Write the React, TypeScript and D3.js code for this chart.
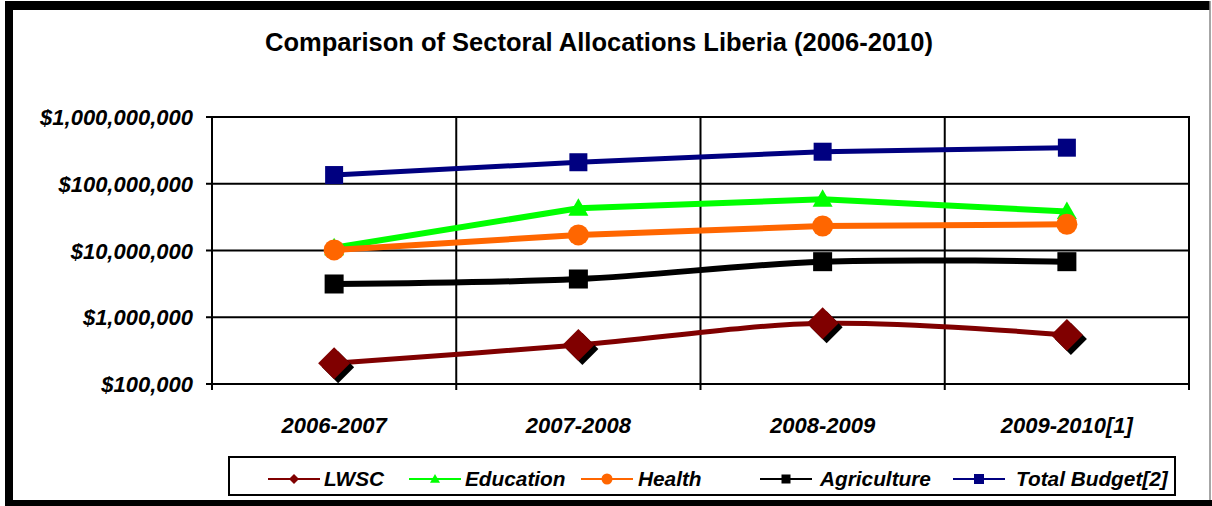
import React, { useEffect, useRef } from 'react';
import * as d3 from 'd3';

// categories and values (log scale)
const years = ['2006-2007', '2007-2008', '2008-2009', '2009-2010[1]'];
const lwsc = [204000, 384000, 810000, 542000];
const education = [11000000, 43000000, 58500000, 38500000];
const health = [10200000, 17100000, 23300000, 24700000];
const agriculture = [3150000, 3740000, 6800000, 6800000];
const totalBudget = [135000000, 210000000, 302000000, 347000000];
const yTicks = [100000, 1000000, 10000000, 100000000, 1000000000];

const seriesNames = ['LWSC', 'Education', 'Health', 'Agriculture', 'Total Budget[2]'];
const seriesColors = ['#800000', '#00FF00', '#FF6600', '#000000', '#000080'];
const seriesMarkers = ['diamond', 'triangle', 'circle', 'square', 'square'];
const seriesSmooth = [true, false, false, true, false];

const W = 1212;
const H = 506;

const App: React.FC = () => {
  const svgRef = useRef<SVGSVGElement>(null);

  useEffect(() => {
    if (!svgRef.current) return;
    const svg = d3.select(svgRef.current);
    svg.selectAll('*').remove();

    const font = 'Arial, "Liberation Sans", sans-serif';
    const left = 212, right = 1189, top = 117, bottom = 384;

    // outer frame
    svg.append('rect').attr('x', 0).attr('y', 0).attr('width', W).attr('height', H).attr('fill', '#fff');
    svg.append('rect').attr('x', 5).attr('y', 1).attr('width', 1205).attr('height', 9).attr('fill', '#000');
    svg.append('rect').attr('x', 5).attr('y', 1).attr('width', 8).attr('height', 505).attr('fill', '#000');
    svg.append('rect').attr('x', 5).attr('y', 500).attr('width', 1207).attr('height', 6).attr('fill', '#000');
    svg.append('line').attr('x1', 1210).attr('x2', 1210).attr('y1', 1).attr('y2', 500)
      .attr('stroke', '#888').attr('stroke-width', 1.5);

    // title
    svg.append('text')
      .attr('x', 599).attr('y', 51)
      .attr('text-anchor', 'middle')
      .attr('font-family', font).attr('font-weight', 'bold').attr('font-size', 25.5)
      .text('Comparison of Sectoral Allocations Liberia (2006-2010)');

    const x = d3.scaleBand().domain(years).range([left, right]);
    const y = d3.scaleLog().domain([100000, 1000000000]).range([bottom, top]);

    // horizontal gridlines + ticks
    yTicks.forEach(t => {
      svg.append('line')
        .attr('x1', left - 6).attr('x2', right)
        .attr('y1', y(t)).attr('y2', y(t))
        .attr('stroke', '#000').attr('stroke-width', 2);
      svg.append('text')
        .attr('x', 193).attr('y', y(t) + 8)
        .attr('text-anchor', 'end')
        .attr('font-family', font).attr('font-weight', 'bold').attr('font-style', 'italic')
        .attr('font-size', 22)
        .text(d3.format('$,')(t));
    });

    // vertical gridlines
    const xEdges = years.map(c => x(c) as number).concat([right]);
    xEdges.forEach(e => {
      svg.append('line')
        .attr('x1', e).attr('x2', e)
        .attr('y1', top).attr('y2', bottom + 6)
        .attr('stroke', '#000').attr('stroke-width', 2);
    });

    years.forEach(c => {
      svg.append('text')
        .attr('x', (x(c) as number) + x.bandwidth() / 2).attr('y', 433)
        .attr('text-anchor', 'middle')
        .attr('font-family', font).attr('font-weight', 'bold').attr('font-style', 'italic')
        .attr('font-size', 22)
        .text(c);
    });

    const cx = (c: string) => (x(c) as number) + x.bandwidth() / 2;
    const allSeries = [lwsc, education, health, agriculture, totalBudget];

    const drawMarker = (g: any, kind: string, px: number, py: number, s: number, color: string, shadow: boolean) => {
      if (kind === 'diamond') {
        const pts = (dx: number, dy: number) =>
          [[px + dx, py - s + dy], [px + s + dx, py + dy], [px + dx, py + s + dy], [px - s + dx, py + dy]]
            .map(p => p.join(',')).join(' ');
        if (shadow) g.append('polygon').attr('points', pts(4, 4)).attr('fill', '#000');
        g.append('polygon').attr('points', pts(0, 0)).attr('fill', color);
      } else if (kind === 'triangle') {
        g.append('polygon')
          .attr('points', `${px},${py - s} ${px + s},${py + s * 0.75} ${px - s},${py + s * 0.75}`)
          .attr('fill', color);
      } else if (kind === 'circle') {
        g.append('circle').attr('cx', px).attr('cy', py).attr('r', s).attr('fill', color);
      } else {
        g.append('rect').attr('x', px - s).attr('y', py - s).attr('width', 2 * s).attr('height', 2 * s).attr('fill', color);
      }
    };

    const markerSize = [16, 10, 10.5, 9.5, 9];
    const lineWidth = [5, 6, 6, 6, 5];

    allSeries.forEach((vals, i) => {
      const line = d3.line<number>()
        .x((_, j) => cx(years[j]))
        .y(v => y(v))
        .curve(seriesSmooth[i] ? d3.curveCatmullRom.alpha(0.5) : d3.curveLinear);
      svg.append('path')
        .attr('d', line(vals))
        .attr('fill', 'none')
        .attr('stroke', seriesColors[i])
        .attr('stroke-width', lineWidth[i]);
      const g = svg.append('g');
      vals.forEach((v, j) => drawMarker(g, seriesMarkers[i], cx(years[j]), y(v), markerSize[i], seriesColors[i], i === 0));
    });

    // plot border
    svg.append('rect')
      .attr('x', left).attr('y', top).attr('width', right - left).attr('height', bottom - top)
      .attr('fill', 'none').attr('stroke', '#000').attr('stroke-width', 2);

    // legend
    const lg = svg.append('g');
    lg.append('rect').attr('x', 229).attr('y', 457).attr('width', 946).attr('height', 38)
      .attr('fill', '#fff').attr('stroke', '#000').attr('stroke-width', 2);
    const legendX = [268, 409, 581, 760, 953];
    const textX = [324, 465, 638, 820, 1016];
    const legendMarker = [5, 5, 5.5, 4.5, 5];
    seriesNames.forEach((name, i) => {
      const lx = legendX[i];
      lg.append('line').attr('x1', lx).attr('x2', lx + 52).attr('y1', 479).attr('y2', 479)
        .attr('stroke', seriesColors[i]).attr('stroke-width', 2);
      drawMarker(lg, seriesMarkers[i], lx + 26, 479, legendMarker[i], seriesColors[i], false);
      lg.append('text')
        .attr('x', textX[i]).attr('y', 486)
        .attr('font-family', font).attr('font-weight', 'bold').attr('font-style', 'italic')
        .attr('font-size', 20.8)
        .text(name);
    });
  }, []);

  return (
    <svg ref={svgRef} width={W} height={H}
      style={{ position: 'absolute', left: 0, top: 0, display: 'block' }} />
  );
};

export default App;
